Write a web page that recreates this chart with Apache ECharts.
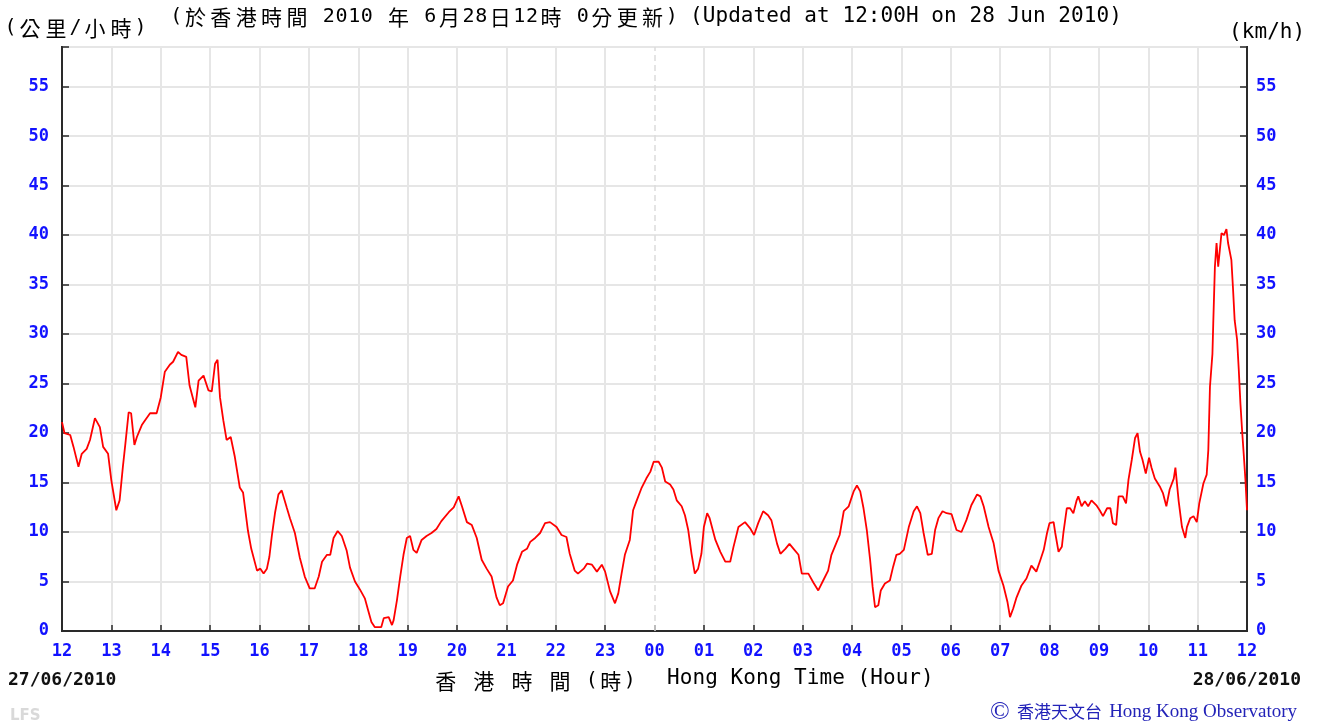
<!DOCTYPE html>
<html>
<head>
<meta charset="utf-8">
<script src="https://cdn.jsdelivr.net/npm/echarts@6/dist/echarts.min.js"></script>
<style>
  html, body { margin: 0; padding: 0; background: #ffffff; }
  #chart { width: 1320px; height: 725px; }
</style>
</head>
<body>
<div id="chart"></div>
<script>
// Wind speed readings, minutes after 12:00 HKT on 27/06/2010
const minutes = [
  0, 3, 10, 14, 20, 24, 30, 34, 40, 46, 50, 56, 60, 66, 70, 74, 77, 81, 84, 88,
  91, 97, 101, 107, 111, 115, 120, 125, 131, 135, 141, 145, 151, 155, 162, 166, 172, 178, 182, 186,
  189, 192, 196, 200, 205, 210, 216, 220, 226, 230, 237, 241, 245, 249, 252, 255, 259, 263, 267, 269,
  273, 277, 283, 289, 295, 301, 307, 312, 316, 322, 326, 330, 335, 340, 346, 350, 356, 362, 368, 372,
  376, 380, 388, 391, 397, 401, 403, 407, 411, 415, 419, 423, 427, 431, 437, 443, 449, 455, 461, 470,
  476, 482, 486, 492, 498, 504, 510, 516, 522, 528, 532, 536, 542, 548, 553, 559, 565, 569, 575, 581,
  587, 593, 601, 607, 613, 617, 623, 627, 634, 638, 644, 650, 656, 660, 666, 672, 676, 680, 684, 690,
  694, 698, 704, 710, 715, 719, 725, 729, 733, 739, 743, 747, 753, 757, 761, 765, 769, 773, 777, 780,
  784, 787, 794, 800, 806, 812, 816, 822, 830, 836, 841, 846, 852, 858, 862, 869, 873, 879, 884, 889,
  895, 899, 907, 909, 913, 919, 925, 931, 935, 941, 945, 950, 956, 960, 962, 966, 970, 974, 978, 982,
  985, 988, 992, 995, 1000, 1006, 1010, 1014, 1018, 1023, 1029, 1035, 1039, 1043, 1047, 1052, 1057, 1061, 1065, 1070,
  1075, 1081, 1087, 1093, 1099, 1105, 1112, 1116, 1120, 1126, 1132, 1138, 1144, 1149, 1152, 1156, 1160, 1166, 1172, 1178,
  1184, 1189, 1193, 1197, 1200, 1205, 1207, 1211, 1215, 1217, 1221, 1225, 1229, 1233, 1235, 1239, 1243, 1247, 1251, 1257,
  1261, 1265, 1270, 1274, 1277, 1281, 1284, 1289, 1293, 1296, 1300, 1304, 1307, 1310, 1313, 1317, 1321, 1324, 1328, 1334,
  1338, 1342, 1346, 1351, 1353, 1357, 1361, 1365, 1367, 1371, 1375, 1379, 1382, 1387, 1391, 1393, 1395, 1398, 1399, 1401,
  1403, 1405, 1407, 1409, 1412, 1415, 1417, 1421, 1423, 1425, 1428, 1430, 1432, 1434, 1436, 1438, 1440
];
const speedKmh = [
  21.1, 20.0, 19.8, 18.6, 16.6, 17.9, 18.4, 19.3, 21.5, 20.6, 18.6, 17.9, 15.2, 12.2, 13.2, 16.6, 18.9, 22.1, 22.0, 18.8,
  19.6, 20.8, 21.3, 22.0, 22.0, 22.0, 23.6, 26.2, 26.9, 27.2, 28.2, 27.9, 27.7, 24.8, 22.6, 25.3, 25.8, 24.3, 24.2, 27.0,
  27.4, 23.6, 21.3, 19.3, 19.6, 17.6, 14.5, 14.0, 10.1, 8.3, 6.1, 6.3, 5.8, 6.3, 7.5, 9.6, 12.0, 13.8, 14.2, 14.0,
  12.5, 11.4, 9.9, 7.4, 5.5, 4.3, 4.3, 5.5, 7.0, 7.7, 7.7, 9.4, 10.1, 9.6, 8.1, 6.4, 5.0, 4.2, 3.3, 2.1,
  0.9, 0.4, 0.4, 1.3, 1.4, 0.6, 1.1, 3.1, 5.5, 7.7, 9.4, 9.6, 8.2, 7.9, 9.2, 9.6, 9.9, 10.3, 11.1, 12.0,
  12.5, 13.6, 12.6, 11.0, 10.7, 9.4, 7.2, 6.3, 5.5, 3.4, 2.6, 2.8, 4.5, 5.1, 6.7, 8.0, 8.3, 9.0, 9.4, 9.9,
  10.9, 11.0, 10.5, 9.7, 9.5, 7.8, 6.1, 5.8, 6.3, 6.8, 6.7, 6.0, 6.7, 6.0, 4.0, 2.8, 3.8, 5.8, 7.7, 9.2,
  12.2, 13.1, 14.4, 15.4, 16.1, 17.1, 17.1, 16.5, 15.1, 14.8, 14.3, 13.2, 12.6, 11.7, 10.2, 7.8, 5.8, 6.3, 7.8, 10.5,
  11.9, 11.4, 9.2, 8.0, 7.0, 7.0, 8.5, 10.5, 11.0, 10.4, 9.7, 10.9, 12.1, 11.7, 11.2, 8.8, 7.8, 8.3, 8.8, 8.3,
  7.7, 5.8, 5.8, 6.0, 4.9, 4.1, 5.1, 6.1, 7.7, 8.9, 9.7, 12.1, 12.6, 13.6, 14.1, 14.7, 14.1, 12.4, 10.2, 7.2,
  4.5, 2.4, 2.6, 4.1, 4.8, 5.1, 6.5, 7.7, 7.8, 8.2, 10.5, 12.1, 12.6, 11.9, 9.9, 7.7, 7.8, 10.2, 11.4, 12.1,
  11.9, 11.8, 10.2, 10.0, 11.2, 12.7, 13.8, 13.6, 12.6, 10.5, 8.9, 6.1, 4.6, 2.9, 1.4, 2.3, 3.4, 4.6, 5.3, 6.6,
  6.0, 7.2, 8.2, 9.9, 10.9, 11.0, 9.9, 8.0, 8.5, 10.0, 12.4, 12.4, 11.9, 13.2, 13.6, 12.6, 13.1, 12.6, 13.2, 12.7,
  12.2, 11.6, 12.4, 12.4, 10.9, 10.7, 13.6, 13.6, 12.9, 15.3, 17.3, 19.5, 20.0, 18.1, 17.3, 15.9, 17.5, 16.5, 15.4, 14.6,
  13.9, 12.6, 14.3, 15.4, 16.5, 13.1, 10.5, 9.4, 10.5, 11.4, 11.6, 11.0, 12.9, 14.9, 15.8, 18.3, 24.7, 28.0, 31.1, 36.8,
  39.2, 36.8, 38.5, 40.2, 40.0, 40.6, 39.2, 37.5, 34.6, 31.4, 29.4, 26.4, 23.0, 20.3, 17.9, 15.4, 12.2
];
// Hour labels along the time axis, one per hour
const hourLabels = ['12', '13', '14', '15', '16', '17', '18', '19', '20', '21', '22', '23',
  '00', '01', '02', '03', '04', '05', '06', '07', '08', '09', '10', '11', '12'];

const BLUE = '#1212ff';
const AXIS = '#2a2a2a';
const GRID = '#e6e6e6';
const MONO = '"DejaVu Sans Mono", "Noto Sans CJK TC", monospace';

// Vertical hour lines; the midnight one is drawn dashed separately
const hourLineColors = hourLabels.map((_, i) => i === 12 ? 'rgba(0,0,0,0)' : GRID);

// Lay out a string on a fixed character grid, CJK characters taking two cells
function monoText(str, x0, yc, cell, size, color, weight) {
  const out = [];
  let c = 0;
  for (const ch of str) {
    const wide = /[\u2e80-\u9fff\uff00-\uffef]/.test(ch);
    const w = wide ? 2 : 1;
    if (ch !== ' ') {
      out.push({
        type: 'text', silent: true,
        x: x0 + (c + w / 2) * cell, y: yc,
        style: {
          text: ch, fill: color,
          fontSize: wide ? size + 1 : size,
          fontFamily: wide ? '"Noto Sans CJK TC", sans-serif' : '"DejaVu Sans Mono", monospace',
          fontWeight: weight || 'normal',
          align: 'center', verticalAlign: 'middle',
          textAlign: 'center', textVerticalAlign: 'middle'
        }
      });
    }
    c += w;
  }
  return out;
}

function plainText(str, x, yc, opts) {
  return {
    type: 'text', silent: true, x: x, y: yc,
    style: Object.assign({
      text: str, verticalAlign: 'middle', textVerticalAlign: 'middle'
    }, opts)
  };
}

const graphics = [].concat(
  monoText('(公里/小時)', 4, 28, 13, 20, '#000'),
  monoText('(於香港時間 2010 年 6月28日12時 0分更新)', 170, 17, 12.7, 20, '#000'),
  monoText('(Updated at 12:00H on 28 Jun 2010)', 690, 17, 12.7, 21, '#000'),
  monoText('(km/h)', 1229, 33, 12.7, 21, '#000'),
  monoText('香 港 時 間 (時)', 433, 681, 12.7, 20, '#000'),
  monoText('Hong Kong Time (Hour)', 667, 679, 12.7, 21, '#000'),
  [
    plainText('27/06/2010', 8, 680, {
      fill: '#111', fontFamily: MONO, fontWeight: 'bold', fontSize: 18,
      align: 'left', textAlign: 'left'
    }),
    plainText('28/06/2010', 1301, 680, {
      fill: '#111', fontFamily: MONO, fontWeight: 'bold', fontSize: 18,
      align: 'right', textAlign: 'right'
    }),
    plainText('LFS', 10, 716, {
      fill: '#d9d9d9', fontFamily: '"DejaVu Sans", sans-serif', fontWeight: 'bold', fontSize: 15,
      align: 'left', textAlign: 'left'
    }),
    plainText('©', 990, 712, {
      fill: '#2323b8', fontFamily: '"Liberation Serif", serif', fontSize: 26,
      align: 'left', textAlign: 'left'
    }),
    plainText('香港天文台', 1017, 712, {
      fill: '#2323b8', fontFamily: '"Noto Sans CJK TC", sans-serif', fontSize: 17,
      align: 'left', textAlign: 'left'
    }),
    plainText('Hong Kong Observatory', 1297, 712, {
      fill: '#2323b8', fontFamily: '"Liberation Serif", serif', fontSize: 19,
      align: 'right', textAlign: 'right'
    })
  ]
);

const yAxisCommon = {
  type: 'value', min: 0, max: 59, interval: 5,
  axisLine: { show: true, lineStyle: { color: AXIS, width: 2 } },
  axisTick: { show: true, inside: true, length: 7, lineStyle: { color: AXIS, width: 1.5 } },
  axisLabel: {
    color: BLUE, fontFamily: MONO, fontWeight: 'bold', fontSize: 17,
    formatter: v => (v > 55 ? '' : String(v))
  }
};

const chart = echarts.init(document.getElementById('chart'), null, { renderer: 'canvas' });
chart.setOption({
  animation: false,
  backgroundColor: '#ffffff',
  grid: {
    left: 62, right: 73, top: 47, bottom: 94,
    show: true, borderColor: AXIS, borderWidth: 2, backgroundColor: 'transparent'
  },
  xAxis: {
    type: 'value', min: 0, max: 1440, interval: 60,
    axisLine: { show: true, onZero: false, lineStyle: { color: AXIS, width: 2 } },
    axisTick: { show: true, inside: true, length: 6, lineStyle: { color: AXIS, width: 1.5 } },
    axisLabel: {
      margin: 12, color: BLUE, fontFamily: MONO, fontWeight: 'bold', fontSize: 17,
      formatter: v => hourLabels[Math.round(v / 60)]
    },
    splitLine: { show: true, lineStyle: { color: hourLineColors, width: 2 } }
  },
  yAxis: [
    Object.assign({}, yAxisCommon, {
      position: 'left',
      axisLabel: Object.assign({}, yAxisCommon.axisLabel, { margin: 13 }),
      splitLine: { show: true, lineStyle: { color: GRID, width: 2 } }
    }),
    Object.assign({}, yAxisCommon, {
      position: 'right',
      axisLabel: Object.assign({}, yAxisCommon.axisLabel, { margin: 9 }),
      splitLine: { show: false }
    })
  ],
  series: [{
    type: 'line',
    yAxisIndex: 0,
    data: minutes.map((m, i) => [m, speedKmh[i]]),
    showSymbol: false,
    symbol: 'none',
    lineStyle: { color: '#ff0000', width: 1.8 },
    z: 3,
    markLine: {
      silent: true, symbol: 'none',
      label: { show: false },
      lineStyle: { color: '#dcdcdc', type: [6, 4], width: 1.5 },
      data: [{ xAxis: 720 }]
    }
  }],
  graphic: graphics
});
</script>
</body>
</html>
